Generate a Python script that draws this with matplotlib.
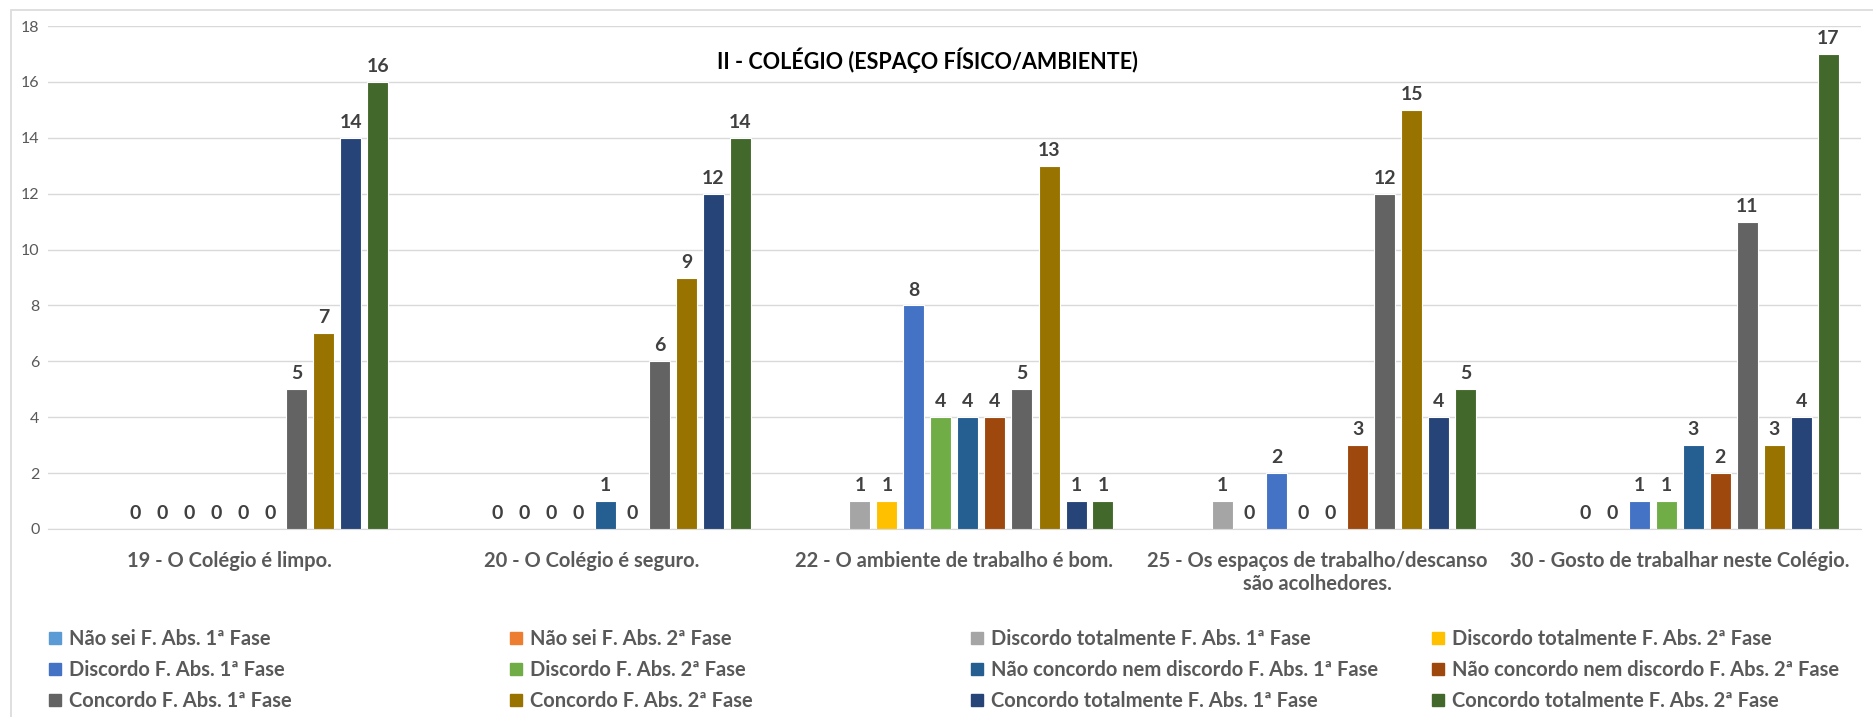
import matplotlib.pyplot as plt
import matplotlib.patches as mpatches
import numpy as np

plt.rcParams['font.family'] = ['Lato', 'DejaVu Sans']

categories = ["19 - O Colégio é limpo.",
              "20 - O Colégio é seguro.",
              "22 - O ambiente de trabalho é bom.",
              "25 - Os espaços de trabalho/descanso\nsão acolhedores.",
              "30 - Gosto de trabalhar neste Colégio."]

nan = np.nan
nao_sei_1 = [nan, nan, nan, nan, nan]
nao_sei_2 = [nan, nan, nan, nan, nan]
disc_tot_1 = [0, 0, 1, 1, 0]
disc_tot_2 = [0, 0, 1, 0, 0]
disc_1 = [0, 0, 8, 2, 1]
disc_2 = [0, 0, 4, 0, 1]
ncnd_1 = [0, 1, 4, 0, 3]
ncnd_2 = [0, 0, 4, 3, 2]
conc_1 = [5, 6, 5, 12, 11]
conc_2 = [7, 9, 13, 15, 3]
ct_1 = [14, 12, 1, 4, 4]
ct_2 = [16, 14, 1, 5, 17]

series_names = ["Não sei F. Abs. 1ª Fase", "Não sei F. Abs. 2ª Fase",
                "Discordo totalmente F. Abs. 1ª Fase", "Discordo totalmente F. Abs. 2ª Fase",
                "Discordo F. Abs. 1ª Fase", "Discordo F. Abs. 2ª Fase",
                "Não concordo nem discordo F. Abs. 1ª Fase", "Não concordo nem discordo F. Abs. 2ª Fase",
                "Concordo F. Abs. 1ª Fase", "Concordo F. Abs. 2ª Fase",
                "Concordo totalmente F. Abs. 1ª Fase", "Concordo totalmente F. Abs. 2ª Fase"]
series = [nao_sei_1, nao_sei_2, disc_tot_1, disc_tot_2, disc_1, disc_2,
          ncnd_1, ncnd_2, conc_1, conc_2, ct_1, ct_2]
colors = ["#5B9BD5", "#ED7D31", "#A5A5A5", "#FFC000", "#4472C4", "#70AD47",
          "#255E91", "#9E480E", "#636363", "#997300", "#264478", "#43682B"]

W, H = 1874, 717
fig = plt.figure(figsize=(W / 100, H / 100), dpi=100)
ax = fig.add_axes([48 / W, 1 - 529 / H, (1861 - 48) / W, (529 - 26) / H])

x = np.arange(len(categories))
slot = 27 / 362.6
bw = 21 / 362.6
n = len(series)
for j, (vals, col) in enumerate(zip(series, colors)):
    xs = x + (j - (n - 1) / 2) * slot
    ax.bar(xs, vals, bw, color=col, edgecolor='white', linewidth=0.8, zorder=3)
    for xi, v in zip(xs, vals):
        if np.isnan(v):
            continue
        ax.annotate(f"{v:g}", (xi, v), xytext=(0, 5), textcoords='offset points',
                    ha='center', va='bottom', fontsize=14, fontweight='bold',
                    color='#404040')

ax.set_xlim(-0.5, len(categories) - 0.5)
ax.set_ylim(0, 18)
ax.set_yticks(range(0, 19, 2))
ax.set_xticks(x)
ax.set_xticklabels(categories)
for lab in ax.get_xticklabels():
    lab.set_fontsize(14.5)
    lab.set_fontweight('bold')
    lab.set_color('#595959')
ax.tick_params(axis='x', length=0, pad=16)
ax.tick_params(axis='y', length=0, pad=6, labelsize=11.5, labelcolor='#595959')
ax.grid(axis='y', color='#D9D9D9', linewidth=1, zorder=0)
for s in ['top', 'right', 'left']:
    ax.spines[s].set_visible(False)
ax.spines['bottom'].set_color('#D9D9D9')

fig.text(927 / W, 1 - 60 / H, "II - COLÉGIO (ESPAÇO FÍSICO/AMBIENTE)",
         ha='center', va='center', fontsize=15.5, fontweight='bold', color='black')

# outer chart frame
fig.add_artist(mpatches.Rectangle((11 / W, -0.05), 1.2, 1.05 - 10 / H,
                                  transform=fig.transFigure, fill=False,
                                  edgecolor='#D9D9D9', linewidth=1.2))

# legend laid out row by row in four columns
col_x = [49, 510, 971, 1432]
for c in range(4):
    idx = [c, c + 4, c + 8]
    handles = [mpatches.Patch(color=colors[i]) for i in idx]
    labels = [series_names[i] for i in idx]
    fig.legend(handles, labels, loc='upper left',
               bbox_to_anchor=(col_x[c] / W, 1 - 629 / H),
               frameon=False, borderpad=0, borderaxespad=0,
               handlelength=0.6, handleheight=0.6, handletextpad=0.4,
               labelspacing=0.55, prop={'size': 14.5, 'weight': 'bold'},
               labelcolor='#595959')

fig.savefig('out.png', dpi=100)
